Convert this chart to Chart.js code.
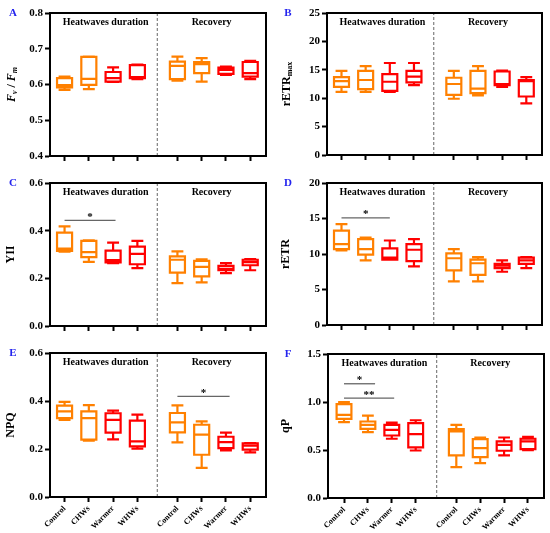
<!DOCTYPE html>
<html><head><meta charset="utf-8">
<script src="https://cdn.jsdelivr.net/npm/chart.js@4.4.0/dist/chart.umd.min.js"></script>
<style>
html,body{margin:0;padding:0;background:#fff;width:550px;height:533px;overflow:hidden}
.p{position:absolute}
</style></head><body>
<div class="p" style="left:0;top:0;width:275px;height:170px"><canvas id="cA"></canvas></div>
<div class="p" style="left:275px;top:0;width:275px;height:170px"><canvas id="cB"></canvas></div>
<div class="p" style="left:0;top:170px;width:275px;height:165px"><canvas id="cC"></canvas></div>
<div class="p" style="left:275px;top:170px;width:275px;height:165px"><canvas id="cD"></canvas></div>
<div class="p" style="left:0;top:335px;width:275px;height:198px"><canvas id="cE"></canvas></div>
<div class="p" style="left:275px;top:335px;width:275px;height:198px"><canvas id="cF"></canvas></div>
<script>
// ---------- data ----------
const categories = ['Control','CHWs','Warmer','WHWs','Control','CHWs','Warmer','WHWs'];
const xPositions = [1,2,3,4,5.65,6.65,7.65,8.65];
const dividerX = 4.82;
const groupLabels = ['Heatwaves duration','Recovery'];

// A: Fv/Fm
const fvfmMin = [0.585,0.587,0.607,0.615,0.611,0.608,0.627,0.615];
const fvfmQ1  = [0.592,0.599,0.608,0.618,0.615,0.632,0.630,0.622];
const fvfmMed = [0.598,0.616,0.618,0.621,0.652,0.657,0.641,0.632];
const fvfmQ3  = [0.618,0.677,0.635,0.654,0.664,0.663,0.647,0.663];
const fvfmMax = [0.622,0.678,0.648,0.656,0.678,0.674,0.650,0.666];
// B: rETRmax
const retrmaxMin = [11.1,11.1,11.1,12.3,9.9,10.5,12.0,9.1];
const retrmaxQ1  = [12.0,11.6,11.3,12.8,10.6,10.9,12.3,10.3];
const retrmaxMed = [13.0,13.2,12.9,13.8,12.5,11.7,12.5,13.0];
const retrmaxQ3  = [13.7,14.8,14.25,14.8,13.6,14.8,14.7,13.2];
const retrmaxMax = [14.8,15.65,16.2,16.2,14.8,15.65,14.85,13.7];
// C: YII
const yiiMin = [0.312,0.269,0.264,0.243,0.180,0.183,0.222,0.234];
const yiiQ1  = [0.315,0.289,0.267,0.259,0.224,0.208,0.234,0.255];
const yiiMed = [0.325,0.310,0.276,0.303,0.278,0.248,0.240,0.268];
const yiiQ3  = [0.392,0.357,0.316,0.333,0.292,0.273,0.252,0.278];
const yiiMax = [0.418,0.359,0.350,0.357,0.313,0.280,0.264,0.281];
// D: rETR
const retrMin = [10.5,9.1,9.2,8.25,6.15,6.15,7.5,8.0];
const retrQ1  = [10.7,9.9,9.2,9.0,7.7,7.05,8.0,8.6];
const retrMed = [11.4,10.7,9.5,10.6,9.4,8.7,8.35,9.1];
const retrQ3  = [13.3,12.1,10.8,11.4,10.1,9.2,8.6,9.5];
const retrMax = [14.2,12.3,11.9,12.1,10.7,9.55,9.1,9.55];
// E: NPQ
const npqMin = [0.321,0.235,0.240,0.201,0.228,0.121,0.194,0.186];
const npqQ1  = [0.329,0.239,0.268,0.211,0.269,0.176,0.204,0.197];
const npqMed = [0.357,0.329,0.321,0.232,0.311,0.260,0.229,0.214];
const npqQ3  = [0.381,0.357,0.349,0.318,0.350,0.301,0.251,0.224];
const npqMax = [0.396,0.383,0.360,0.343,0.382,0.315,0.268,0.225];
// F: qP
const qpMin = [0.790,0.686,0.617,0.495,0.322,0.364,0.443,0.499];
const qpQ1  = [0.824,0.720,0.651,0.527,0.443,0.426,0.492,0.509];
const qpMed = [0.866,0.762,0.710,0.665,0.693,0.520,0.554,0.589];
const qpQ3  = [0.977,0.797,0.762,0.779,0.717,0.613,0.589,0.617];
const qpMax = [0.998,0.859,0.786,0.810,0.762,0.630,0.630,0.637];

// significance brackets: [fromX, toX, y, label]
const sigC = [[1, 3.1, 0.443, '*']];
const sigD = [[1, 3.0, 15.1, '*']];
const sigE = [[5.65, 7.8, 0.419, '*']];
const sigF = [[1, 2.3, 1.19, '*'], [1, 3.1, 1.04, '**']];

// ---------- style ----------
const ORANGE = '#ff8000', RED = '#ff0000';
const boxColors = [ORANGE,ORANGE,RED,RED,ORANGE,ORANGE,RED,RED];
const SERIF = "'Liberation Serif','Times New Roman',serif";
Chart.defaults.font.family = SERIF;
Chart.defaults.font.weight = 'bold';
Chart.defaults.color = '#000';

const HALF_BOX = 0.31, HALF_CAP = 0.2;

function boxDataset(i, mn, q1, md, q3, mx) {
  const x = xPositions[i];
  const g = {x: x, y: null};
  const w = HALF_BOX, c = HALF_CAP;
  return {
    data: [
      {x:x-w,y:q3},{x:x+w,y:q3},{x:x+w,y:q1},{x:x-w,y:q1},{x:x-w,y:q3}, g,
      {x:x-w,y:md},{x:x+w,y:md}, g,
      {x:x,y:q3},{x:x,y:mx}, g,
      {x:x-c,y:mx},{x:x+c,y:mx}, g,
      {x:x,y:q1},{x:x,y:mn}, g,
      {x:x-c,y:mn},{x:x+c,y:mn}
    ],
    showLine: true, spanGaps: false, borderColor: boxColors[i], borderWidth: 2.2,
    pointRadius: 0, pointHoverRadius: 0, tension: 0,
    borderCapStyle: 'square', borderJoinStyle: 'miter', fill: false
  };
}

const decor = {
  id: 'decor',
  afterDraw(chart, args, o) {
    const ctx = chart.ctx, a = chart.chartArea;
    const xs = chart.scales.x, ys = chart.scales.y;
    ctx.save();
    // frame
    ctx.strokeStyle = '#000'; ctx.lineWidth = 2;
    ctx.strokeRect(a.left, a.top, a.right - a.left, a.bottom - a.top);
    // group labels
    const dx = xs.getPixelForValue(o.divider);
    ctx.font = 'bold 10px ' + SERIF; ctx.fillStyle = '#000';
    ctx.textAlign = 'center'; ctx.textBaseline = 'middle';
    ctx.fillText(groupLabels[0], (a.left + dx) / 2 + 2, a.top + 9);
    ctx.fillText(groupLabels[1], (dx + a.right) / 2, a.top + 9);
    // significance stars
    (o.sig || []).forEach(s => {
      ctx.textBaseline = 'bottom';
      ctx.font = 'bold 11px ' + SERIF;
      ctx.fillText(s[3], xs.getPixelForValue((s[0] + s[1]) / 2), ys.getPixelForValue(s[2]) + 2);
    });
    // panel letter
    ctx.font = 'bold 11px ' + SERIF; ctx.fillStyle = '#2424ee';
    ctx.textAlign = 'center'; ctx.textBaseline = 'middle';
    ctx.fillText(o.letter, 13, a.top);
    // custom y title with subscripts
    if (o.title) {
      ctx.fillStyle = '#000';
      ctx.translate(12, (a.top + a.bottom) / 2);
      ctx.rotate(-Math.PI / 2);
      const parts = o.title;
      let tw = 0;
      parts.forEach(p => { ctx.font = p.f; tw += ctx.measureText(p.t).width; });
      let cx = -tw / 2;
      ctx.textAlign = 'left'; ctx.textBaseline = 'middle';
      parts.forEach(p => { ctx.font = p.f; ctx.fillText(p.t, cx, p.dy || 0); cx += ctx.measureText(p.t).width; });
    }
    ctx.restore();
  }
};

function makePanel(id, mins, q1s, meds, q3s, maxs, opt) {
  const pos = opt.positions || xPositions;
  const div = opt.divider || dividerX;
  const datasets = [];
  for (let i = 0; i < categories.length; i++) {
    const ds = boxDataset(i, mins[i], q1s[i], meds[i], q3s[i], maxs[i]);
    const shift = pos[i] - xPositions[i];
    ds.data.forEach(p => { p.x += shift; });
    datasets.push(ds);
  }
  // divider
  datasets.push({data:[{x:div,y:opt.min},{x:div,y:opt.max}], showLine:true, borderColor:'#666',
    borderWidth:1, borderDash:[3,2], pointRadius:0, pointHoverRadius:0});
  // significance lines
  (opt.sig || []).forEach(s => datasets.push({data:[{x:s[0],y:s[2]},{x:s[1],y:s[2]}], showLine:true,
    borderColor:'#666', borderWidth:1.3, pointRadius:0, pointHoverRadius:0}));
  new Chart(document.getElementById(id), {
    type: 'scatter',
    data: { datasets },
    options: {
      responsive: true, maintainAspectRatio: false, animation: false,
      events: [],
      layout: { padding: opt.pad },
      plugins: { legend: {display:false}, tooltip: {enabled:false},
        decor: { letter: opt.letter, sig: opt.sig, title: opt.customTitle, divider: div } },
      scales: {
        x: {
          type: 'linear', min: opt.xmin || 0.4, max: opt.xmax || 9.3,
          afterBuildTicks: s => { s.ticks = pos.map(v => ({value: v})); },
          afterFit: s => { s.height = opt.xh; },
          ticks: { autoSkip: false, maxRotation: 45, minRotation: opt.showX ? 45 : 0, padding: 2,
            font: { size: 8, weight: 'bold', family: SERIF },
            callback: (v, i) => opt.showX ? categories[i] : '' },
          grid: { drawOnChartArea: false, drawTicks: true, tickLength: 5, tickWidth: 2, tickColor: '#000' },
          border: { display: true, color: '#000', width: 2 }
        },
        y: {
          min: opt.min, max: opt.max,
          afterFit: s => { s.width = opt.yw; },
          ticks: { stepSize: opt.step, padding: 2, font: { size: 11, weight: 'bold', family: SERIF },
            callback: v => v.toFixed(opt.dec) },
          grid: { drawOnChartArea: false, drawTicks: true, tickLength: 5, tickWidth: 2, tickColor: '#000' },
          border: { display: true, color: '#000', width: 2 },
          title: { display: !!opt.title, text: opt.title || '', padding: {top: 4, bottom: 0},
            font: { size: 12, weight: 'bold', family: SERIF } }
        }
      }
    },
    plugins: [decor]
  });
}

const bi = 'bold italic 12px ' + SERIF, bis = 'bold italic 8px ' + SERIF;
const b12 = 'bold 12px ' + SERIF, b8 = 'bold 8px ' + SERIF;

makePanel('cA', fvfmMin, fvfmQ1, fvfmMed, fvfmQ3, fvfmMax, {
  letter:'A', min:0.4, max:0.8, step:0.1, dec:1, yw:50, xh:10, showX:false,
  pad:{left:0, top:13, right:9, bottom:4},
  customTitle:[{t:'F',f:bi},{t:'v',f:bis,dy:3},{t:' / ',f:b12},{t:'F',f:bi},{t:'m',f:bis,dy:3}] });
makePanel('cB', retrmaxMin, retrmaxQ1, retrmaxMed, retrmaxQ3, retrmaxMax, {
  letter:'B', min:0, max:25, step:5, dec:0, yw:52, xh:10, showX:false,
  pad:{left:0, top:13, right:8, bottom:5},
  customTitle:[{t:'rETR',f:b12},{t:'max',f:b8,dy:3}] });
makePanel('cC', yiiMin, yiiQ1, yiiMed, yiiQ3, yiiMax, {
  letter:'C', min:0, max:0.6, step:0.2, dec:1, yw:50, xh:9, showX:false, title:'YII', sig: sigC,
  pad:{left:0, top:13, right:9, bottom:0} });
makePanel('cD', retrMin, retrQ1, retrMed, retrQ3, retrMax, {
  letter:'D', min:0, max:20, step:5, dec:0, yw:52, xh:9, showX:false, title:'rETR', sig: sigD,
  pad:{left:0, top:13, right:8, bottom:1} });
makePanel('cE', npqMin, npqQ1, npqMed, npqQ3, npqMax, {
  letter:'E', min:0, max:0.6, step:0.2, dec:1, yw:50, xh:34, showX:true, title:'NPQ', sig: sigE,
  pad:{left:0, top:18, right:9, bottom:2} });
makePanel('cF', qpMin, qpQ1, qpMed, qpQ3, qpMax, {
  letter:'F', min:0, max:1.5, step:0.5, dec:1, yw:53, xh:33, showX:true, title:'qP', sig: sigF,
  xmin:0.33, xmax:9.37, positions:[1,2,3,4,5.7,6.7,7.7,8.7], divider:4.88,
  pad:{left:0, top:19, right:6, bottom:2} });
</script>
</body></html>
